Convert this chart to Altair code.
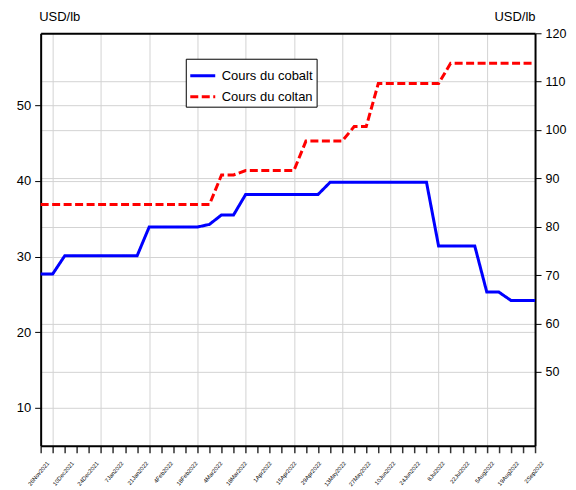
import altair as alt
import pandas as pd

# weekly observations (index 0 = 26Nov2021)
week_index = [0, 1, 2, 3, 4, 5, 6, 7, 8, 9, 10, 11, 12, 13, 14, 15, 16, 17, 18, 19, 20,
              21, 22, 23, 24, 25, 26, 27, 28, 29, 30, 31, 32, 33, 34, 35, 36, 37, 38, 39, 40, 41]

cobalt = [27.7, 27.7, 30.1, 30.1, 30.1, 30.1, 30.1, 30.1, 30.1, 33.9, 33.9, 33.9, 33.9, 33.9,
          34.25, 35.5, 35.5, 38.2, 38.2, 38.2, 38.2, 38.2, 38.2, 38.2, 39.8, 39.8, 39.8, 39.8,
          39.8, 39.8, 39.8, 39.8, 39.8, 31.4, 31.4, 31.4, 31.4, 25.3, 25.3, 24.2, 24.2, 24.2]

coltan = [84.6, 84.6, 84.6, 84.6, 84.6, 84.6, 84.6, 84.6, 84.6, 84.6, 84.6, 84.6, 84.6, 84.6,
          84.6, 90.7, 90.7, 91.6, 91.6, 91.6, 91.6, 91.6, 97.7, 97.7, 97.7, 97.7, 100.7, 100.7,
          109.6, 109.6, 109.6, 109.6, 109.6, 109.6, 113.8, 113.8, 113.8, 113.8, 113.8, 113.8,
          113.8, 113.8]

tick_labels = ["26Nov2021", "10Dec2021", "24Dec2021", "7Jan2022", "21Jan2022", "4Feb2022",
               "18Feb2022", "4Mar2022", "18Mar2022", "1Apr2022", "15Apr2022", "29Apr2022",
               "13May2022", "27May2022", "10Jun2022", "24Jun2022", "8Jul2022", "22Jul2022",
               "5Aug2022", "19Aug2022", "2Sep2022"]

series_names = ["Cours du cobalt", "Cours du coltan"]
left_ticks = [10, 20, 30, 40, 50]
right_ticks = [50, 60, 70, 80, 90, 100, 110, 120]
grid_weeks = [1, 5, 9, 13, 17, 21, 25, 29, 33, 37]

last = week_index[-1]
label_pos = [k * last / (len(tick_labels) - 1) for k in range(len(tick_labels))]
label_js = "[" + ",".join("'" + s + "'" for s in tick_labels) + "]"

df_cob = pd.DataFrame({"idx": week_index, "value": cobalt, "series": series_names[0]})
df_col = pd.DataFrame({"idx": week_index, "value": coltan, "series": series_names[1]})

FONT = "Liberation Sans, Arial, sans-serif"
GRID = "#d3d3d3"

xscale = alt.Scale(domain=[0, last], nice=False, zero=False)

legend = alt.Legend(title=None, orient="none", legendX=145.3, legendY=25.5, padding=3,
                    strokeColor="black", fillColor="white", symbolType="stroke",
                    symbolSize=625, symbolStrokeWidth=3, labelFontSize=13, labelFont=FONT,
                    labelColor="black", labelOffset=5, rowPadding=-9, labelLimit=200)

color = alt.Color("series:N", scale=alt.Scale(domain=series_names, range=["#0000ff", "#ff0000"]),
                  legend=legend)
dash = alt.StrokeDash("series:N", scale=alt.Scale(domain=series_names, range=[[1, 0], [8, 3.5]]),
                      legend=legend)

cob_layer = alt.Chart(df_cob).mark_line(strokeWidth=3, strokeCap="butt").encode(
    x=alt.X("idx:Q", scale=xscale,
            axis=alt.Axis(values=grid_weeks, orient="top", grid=True, gridColor=GRID,
                          gridWidth=1, ticks=False, labels=False, domain=True,
                          domainColor="black", domainWidth=2, title=None)),
    y=alt.Y("value:Q", scale=alt.Scale(domain=[5, 59.5], nice=False, zero=False),
            axis=alt.Axis(values=left_ticks, orient="left", grid=True, gridColor=GRID,
                          gridWidth=1, domain=True, domainColor="black", domainWidth=2,
                          tickSize=6, tickColor="black",
                          labelPadding=4, labelFontSize=13, labelFont=FONT, labelColor="black",
                          title="USD/lb", titleAngle=0, titleAlign="left",
                          titleBaseline="alphabetic", titleX=-2, titleY=-13,
                          titleFont=FONT, titleFontSize=13, titleFontWeight="normal",
                          titleColor="black")),
    color=color,
    strokeDash=dash,
)

col_layer = alt.Chart(df_col).mark_line(strokeWidth=3, strokeCap="butt").encode(
    x=alt.X("idx:Q", scale=xscale,
            axis=alt.Axis(values=week_index, orient="bottom", grid=False, ticks=True,
                          tickSize=7, tickColor="#333333", tickWidth=1.5, labels=False,
                          domain=True, domainColor="black", domainWidth=2, title=None)),
    y=alt.Y("value:Q", scale=alt.Scale(domain=[34.7, 120], nice=False, zero=False),
            axis=alt.Axis(values=right_ticks, orient="right", grid=True, gridColor=GRID,
                          gridWidth=1,
                          gridOpacity={"condition": {"test": "datum.value >= 120", "value": 0},
                                       "value": 1},
                          domain=True, domainColor="black", domainWidth=2,
                          tickSize=6, tickColor="black",
                          labelPadding=4, labelFontSize=12.5, labelFont=FONT, labelColor="black",
                          title="USD/lb", titleAngle=0, titleAlign="right",
                          titleBaseline="alphabetic", titleX=0, titleY=-13,
                          titleFont=FONT, titleFontSize=13, titleFontWeight="normal",
                          titleColor="black")),
    color=color,
    strokeDash=dash,
)

label_layer = alt.Chart(df_cob).mark_line(opacity=0).encode(
    x=alt.X("idx:Q", scale=xscale,
            axis=alt.Axis(values=label_pos, orient="bottom", ticks=False, tickSize=0,
                          domain=False, grid=False,
                          labelExpr=label_js + "[round(datum.value * "
                          + str(len(tick_labels) - 1) + " / " + str(last) + ")]",
                          labelAngle=-50, labelAlign="right", labelBaseline="middle",
                          labelPadding=16, labelOffset=7, labelFontSize=5.8, labelFont=FONT,
                          labelColor="black", labelFlush=False, labelOverlap=False,
                          labelBound=False, title=None)),
    y=alt.Y("value:Q", axis=None),
)

chart = alt.layer(cob_layer, col_layer, label_layer).resolve_scale(
    x="independent", y="independent"
).properties(
    width=495,
    height=413,
    autosize=alt.AutoSizeParams(type="none"),
    padding={"left": 32.7, "top": 25, "right": 33, "bottom": 42},
).configure_view(
    stroke=None
).configure(background="white")

chart.save("out.html", embed_options={"renderer": "svg", "actions": False})
